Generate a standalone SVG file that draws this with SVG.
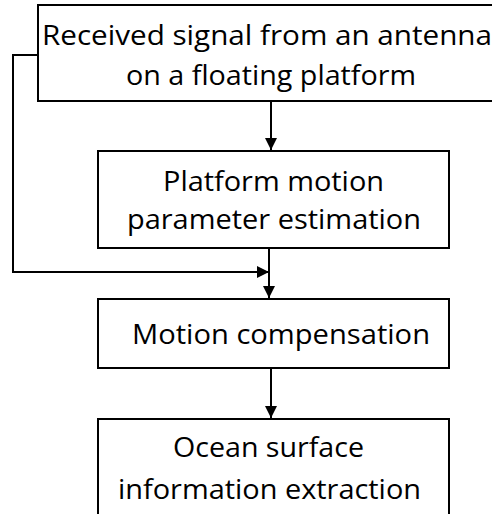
<svg xmlns="http://www.w3.org/2000/svg" width="492" height="514" viewBox="0 0 492 514">
<style>
.box{fill:#fff;stroke:#000;stroke-width:2}
.lbl{font-family:"Open Sans","Noto Sans",sans-serif;font-size:28px;fill:#000;text-anchor:middle}
.con{fill:none;stroke:#000;stroke-width:2}
</style>
<defs>
<marker id="ah" viewBox="0 0 12 12" refX="12" refY="6" markerWidth="12" markerHeight="12" markerUnits="userSpaceOnUse" orient="auto">
<path d="M0,0 L12,6 L0,12 Z" fill="#000"/>
</marker>
</defs>
<rect width="492" height="514" fill="#fff"/>
<g id="connectors">
<path class="con" d="M271,101 V150" marker-end="url(#ah)"/>
<path class="con" d="M38,55 H13 V272 H269" marker-end="url(#ah)"/>
<path class="con" d="M269,248 V298" marker-end="url(#ah)"/>
<path class="con" d="M271,368 V418" marker-end="url(#ah)"/>
</g>
<g id="node1">
<rect class="box" x="38" y="5" width="470" height="96"/>
<text class="lbl" x="267" y="45" textLength="450" lengthAdjust="spacingAndGlyphs">Received signal from an antenna</text>
<text class="lbl" x="271" y="85" textLength="290" lengthAdjust="spacingAndGlyphs">on a floating platform</text>
</g>
<g id="node2">
<rect class="box" x="98" y="151" width="351" height="97"/>
<text class="lbl" x="273.5" y="191" textLength="221" lengthAdjust="spacingAndGlyphs">Platform motion</text>
<text class="lbl" x="274" y="229" textLength="294" lengthAdjust="spacingAndGlyphs">parameter estimation</text>
</g>
<g id="node3">
<rect class="box" x="98" y="299" width="351" height="69"/>
<text class="lbl" x="281" y="344" textLength="298" lengthAdjust="spacingAndGlyphs">Motion compensation</text>
</g>
<g id="node4">
<rect class="box" x="98" y="419" width="351" height="110"/>
<text class="lbl" x="268.5" y="457" textLength="191" lengthAdjust="spacingAndGlyphs">Ocean surface</text>
<text class="lbl" x="269.5" y="499" textLength="303" lengthAdjust="spacingAndGlyphs">information extraction</text>
</g>
</svg>
